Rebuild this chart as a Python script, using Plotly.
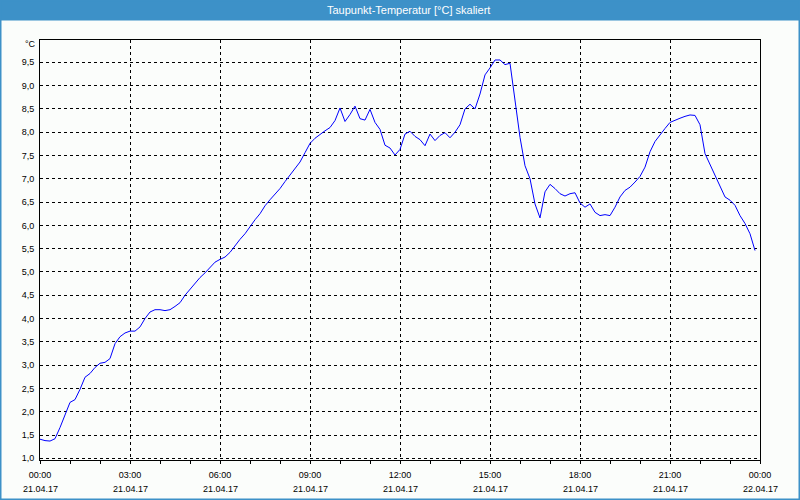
import plotly.graph_objects as go

# ---- data (10-minute readings, 21.04.17 00:00 .. 23:50) ----
times = [f"{h:02d}:{m:02d}" for h in range(24) for m in range(0, 60, 10)]
dew_point = [
    1.41, 1.38, 1.37, 1.42, 1.66, 1.93,   # 00
    2.20, 2.26, 2.48, 2.74, 2.82, 2.95,   # 01
    3.04, 3.06, 3.14, 3.46, 3.61, 3.69,   # 02
    3.73, 3.73, 3.82, 4.00, 4.14, 4.19,   # 03
    4.19, 4.17, 4.19, 4.26, 4.34, 4.50,   # 04
    4.63, 4.76, 4.88, 4.98, 5.10, 5.21,   # 05
    5.27, 5.32, 5.42, 5.57, 5.70, 5.82,   # 06
    5.98, 6.12, 6.25, 6.42, 6.55, 6.67,   # 07
    6.79, 6.94, 7.08, 7.22, 7.36, 7.56,   # 08
    7.76, 7.87, 7.96, 8.03, 8.10, 8.25,   # 09
    8.52, 8.23, 8.38, 8.56, 8.29, 8.26,   # 10
    8.49, 8.21, 8.06, 7.72, 7.66, 7.51,   # 11
    7.63, 7.96, 8.02, 7.91, 7.84, 7.71,   # 12
    7.96, 7.82, 7.93, 7.99, 7.88, 8.00,   # 13
    8.16, 8.50, 8.60, 8.50, 8.82, 9.23,   # 14
    9.38, 9.55, 9.55, 9.45, 9.48, 8.70,   # 15
    7.89, 7.28, 7.00, 6.46, 6.16, 6.72,   # 16
    6.88, 6.79, 6.68, 6.63, 6.68, 6.70,   # 17
    6.48, 6.39, 6.46, 6.28, 6.21, 6.23,   # 18
    6.21, 6.39, 6.61, 6.75, 6.82, 6.93,   # 19
    7.05, 7.25, 7.58, 7.80, 7.95, 8.08,   # 20
    8.21, 8.26, 8.30, 8.34, 8.37, 8.36,   # 21
    8.16, 7.54, 7.30, 7.07, 6.82, 6.61,   # 22
    6.54, 6.43, 6.21, 6.04, 5.82, 5.46,   # 23
]
tick_hours = [0, 3, 6, 9, 12, 15, 18, 21, 24]
tick_times = ["00:00", "03:00", "06:00", "09:00", "12:00", "15:00", "18:00", "21:00", "00:00"]
tick_dates = ["21.04.17"] * 8 + ["22.04.17"]
y_ticks = [1.0, 1.5, 2.0, 2.5, 3.0, 3.5, 4.0, 4.5, 5.0, 5.5, 6.0, 6.5, 7.0, 7.5, 8.0, 8.5, 9.0, 9.5]
y_labels = ["1,0", "1,5", "2,0", "2,5", "3,0", "3,5", "4,0", "4,5", "5,0", "5,5",
            "6,0", "6,5", "7,0", "7,5", "8,0", "8,5", "9,0", "9,5"]
title_text = "Taupunkt-Temperatur [°C] skaliert"
unit_text = "°C"

hours = [int(t[:2]) + int(t[3:]) / 60 for t in times]

FONT = "Liberation Sans, Arial, sans-serif"
BG = "#fbfdfb"
BAR = "#3d91c8"

fig = go.Figure()
fig.add_trace(go.Scatter(x=hours, y=dew_point, mode="lines",
                         line=dict(color="#0000ff", width=1), hoverinfo="skip"))

W, H = 800, 500
L, R, T, B = 40, 40, 40, 40
pw, ph = W - L - R, H - T - B

def px(x):
    return (x - L) / pw

def py(y):
    return (H - B - y) / ph

fig.update_layout(
    width=W, height=H,
    margin=dict(l=L, r=R, t=T, b=B, pad=0),
    paper_bgcolor=BG, plot_bgcolor=BG,
    showlegend=False,
    font=dict(family=FONT, size=9, color="#000000"),
    xaxis=dict(
        range=[0, 24], tickmode="array", tickvals=tick_hours, ticktext=tick_times,
        showgrid=True, gridcolor="#000000", gridwidth=1, griddash="3px,3px",
        showline=True, linecolor="#000000", linewidth=1, mirror=True,
        ticks="outside", ticklen=3, tickcolor="#000000", tickwidth=1,
        minor=dict(tickmode="array", tickvals=list(range(25)), ticks="outside",
                   ticklen=3, tickcolor="#000000", tickwidth=1, showgrid=False),
        zeroline=False, fixedrange=True, ticklabelstandoff=3,
    ),
    yaxis=dict(
        range=[0.9635, 9.979], tickmode="array", tickvals=y_ticks, ticktext=y_labels,
        showgrid=True, gridcolor="#000000", gridwidth=1, griddash="3px,3px",
        showline=True, linecolor="#000000", linewidth=1, mirror=True,
        ticks="", zeroline=False, fixedrange=True, ticklabelstandoff=3,
    ),
    shapes=[
        dict(type="rect", xref="paper", yref="paper", layer="below",
             x0=px(0), x1=px(W), y0=py(0), y1=py(20.5),
             fillcolor=BAR, line=dict(width=0)),
        dict(type="rect", xref="paper", yref="paper",
             x0=px(0), x1=px(W), y0=py(H), y1=py(0),
             fillcolor="rgba(0,0,0,0)", line=dict(color=BAR, width=3)),
    ],
    annotations=[
        dict(text=title_text, xref="paper", yref="paper", x=px(408.5), y=py(9.5),
             xanchor="center", yanchor="middle", showarrow=False,
             font=dict(family=FONT, size=11, color="#ffffff")),
        dict(text=unit_text, xref="paper", yref="paper", x=px(37.5), y=py(44.5),
             xanchor="right", yanchor="middle", showarrow=False,
             font=dict(family=FONT, size=9, color="#000000")),
    ] + [
        dict(text=d, xref="x", yref="paper", x=h, y=py(489),
             xanchor="center", yanchor="middle", showarrow=False,
             font=dict(family=FONT, size=9, color="#000000"))
        for h, d in zip(tick_hours, tick_dates)
    ],
)

fig.write_html(
    "out.html",
    config={"displayModeBar": False},
    post_script="document.body.style.margin='0';document.body.style.overflow='hidden';",
)
